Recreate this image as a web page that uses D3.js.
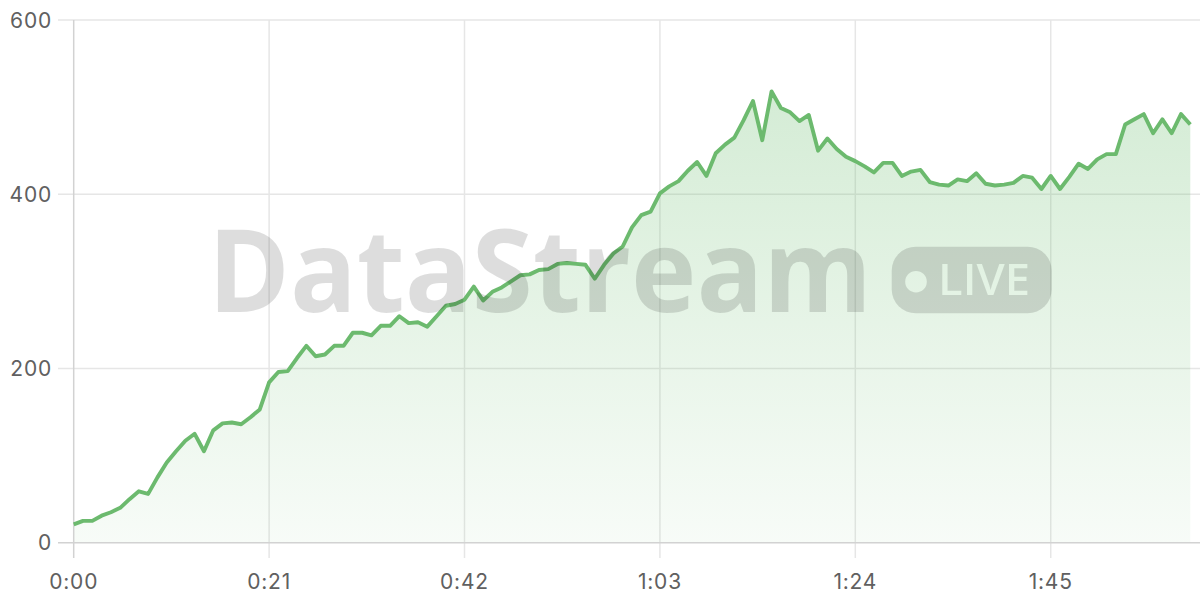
<!DOCTYPE html>
<html>
<head>
<meta charset="utf-8">
<script src="https://cdn.jsdelivr.net/npm/d3@7"></script>
<style>
  html, body { margin: 0; padding: 0; background: #ffffff; }
  svg { display: block; }
</style>
</head>
<body>
<svg id="chart" width="1200" height="600"></svg>
<script>
// ---- data (seconds elapsed -> value), one sample per second ----
const seconds = d3.range(0, 121);
const values = [
  21, 25, 25, 31, 35, 40, 50, 59, 56, 75,
  92, 105, 117, 125, 105, 129, 137, 138, 136, 144,
  153, 184, 196, 197, 212, 226, 214, 216, 226, 226,
  241, 241, 238, 249, 249, 260, 252, 253, 248, 260,
  272, 274, 279, 294, 278, 288, 293, 300, 307, 308,
  313, 314, 320, 321, 320, 319, 303, 319, 332, 340,
  362, 376, 380, 401, 409, 415, 427, 437, 421, 447,
  457, 465, 485, 507, 462, 518, 499, 494, 484, 491,
  450, 464, 452, 443, 438, 432, 425, 436, 436, 421,
  426, 428, 414, 411, 410, 417, 415, 424, 412, 410,
  411, 413, 421, 419, 406, 421, 406, 420, 435, 429,
  440, 446, 446, 480, 486, 492, 470, 486, 470, 492,
  480
];
const xTicks = [0, 21, 42, 63, 84, 105];
const yTicks = [0, 200, 400, 600];
const watermarkText = "DataStream";
const badgeText = "LIVE";

const points = seconds.map((s, i) => ({ t: s, v: values[i] }));

const svg = d3.select("#chart");
const x = d3.scaleLinear().domain([0, 121]).range([73.7, 1199.6]);
const y = d3.scaleLinear().domain([0, 600]).range([542.7, 20]);

const fmt = s => `${Math.floor(s / 60)}:${String(s % 60).padStart(2, "0")}`;

const defs = svg.append("defs");
const grad = defs.append("linearGradient")
  .attr("id", "areaGrad")
  .attr("gradientUnits", "userSpaceOnUse")
  .attr("x1", 0).attr("x2", 0)
  .attr("y1", y(d3.max(values))).attr("y2", y(0));
grad.append("stop").attr("offset", "0%").attr("stop-color", "#66bb6a").attr("stop-opacity", 0.28);
grad.append("stop").attr("offset", "100%").attr("stop-color", "#66bb6a").attr("stop-opacity", 0.05);

// gridlines
const grid = svg.append("g");
grid.selectAll("line.h").data(yTicks.filter(d => d !== 0)).join("line")
  .attr("x1", 58).attr("x2", 1200)
  .attr("y1", d => y(d)).attr("y2", d => y(d))
  .attr("stroke", "#e6e6e6").attr("stroke-width", 1.5);
grid.selectAll("line.v").data(xTicks.filter(d => d !== 0)).join("line")
  .attr("x1", d => x(d)).attr("x2", d => x(d))
  .attr("y1", y(600)).attr("y2", 558)
  .attr("stroke", "#e6e6e6").attr("stroke-width", 1.5);

// area + line
svg.append("path").datum(points)
  .attr("fill", "url(#areaGrad)")
  .attr("d", d3.area().x(d => x(d.t)).y0(y(0)).y1(d => y(d.v)));

// axes lines
svg.append("line").attr("x1", 58).attr("x2", 1200).attr("y1", y(0)).attr("y2", y(0))
  .attr("stroke", "#d2d2d2").attr("stroke-width", 1.5);
svg.append("line").attr("x1", x(0)).attr("x2", x(0)).attr("y1", y(600)).attr("y2", 558)
  .attr("stroke", "#d2d2d2").attr("stroke-width", 1.5);

svg.append("path").datum(points)
  .attr("fill", "none")
  .attr("stroke", "#6cba6e")
  .attr("stroke-width", 3.9)
  .attr("stroke-linejoin", "round")
  .attr("d", d3.line().x(d => x(d.t)).y(d => y(d.v)));

// tick labels
const labelStyle = sel => sel
  .attr("font-family", "Inter, 'Noto Sans', sans-serif")
  .attr("font-size", 21)
  .attr("letter-spacing", 0.8)
  .attr("fill", "#606060");

svg.append("g").selectAll("text").data(yTicks).join("text")
  .call(labelStyle)
  .attr("x", 52).attr("y", d => y(d))
  .attr("text-anchor", "end")
  .attr("dominant-baseline", "central")
  .text(d => d);

svg.append("g").selectAll("text").data(xTicks).join("text")
  .call(labelStyle)
  .attr("x", d => x(d)).attr("y", 581)
  .attr("text-anchor", "middle")
  .attr("dominant-baseline", "central")
  .text(fmt);

// watermark
const mask = defs.append("mask").attr("id", "badgeMask");
mask.append("rect").attr("x", 0).attr("y", 0).attr("width", 1200).attr("height", 600).attr("fill", "white");
mask.append("circle").attr("cx", 916).attr("cy", 281.7).attr("r", 10.8).attr("fill", "black");
mask.append("text")
  .attr("x", 938).attr("y", 295)
  .attr("font-family", "'Open Sans', sans-serif")
  .attr("font-weight", 600)
  .attr("font-size", 44)
  .attr("textLength", 92)
  .attr("lengthAdjust", "spacingAndGlyphs")
  .attr("fill", "black")
  .text(badgeText);

const wm = svg.append("g").attr("pointer-events", "none");
wm.append("text")
  .attr("x", 208).attr("y", 312)
  .attr("font-family", "'Open Sans', sans-serif")
  .attr("font-weight", 700)
  .attr("font-size", 115)
  .attr("textLength", 664)
  .attr("lengthAdjust", "spacingAndGlyphs")
  .attr("fill", "rgba(0,0,0,0.135)")
  .text(watermarkText);
wm.append("rect")
  .attr("x", 891.7).attr("y", 246.7).attr("width", 160).attr("height", 66.6).attr("rx", 24)
  .attr("fill", "rgba(0,0,0,0.135)")
  .attr("mask", "url(#badgeMask)");
</script>
</body>
</html>
